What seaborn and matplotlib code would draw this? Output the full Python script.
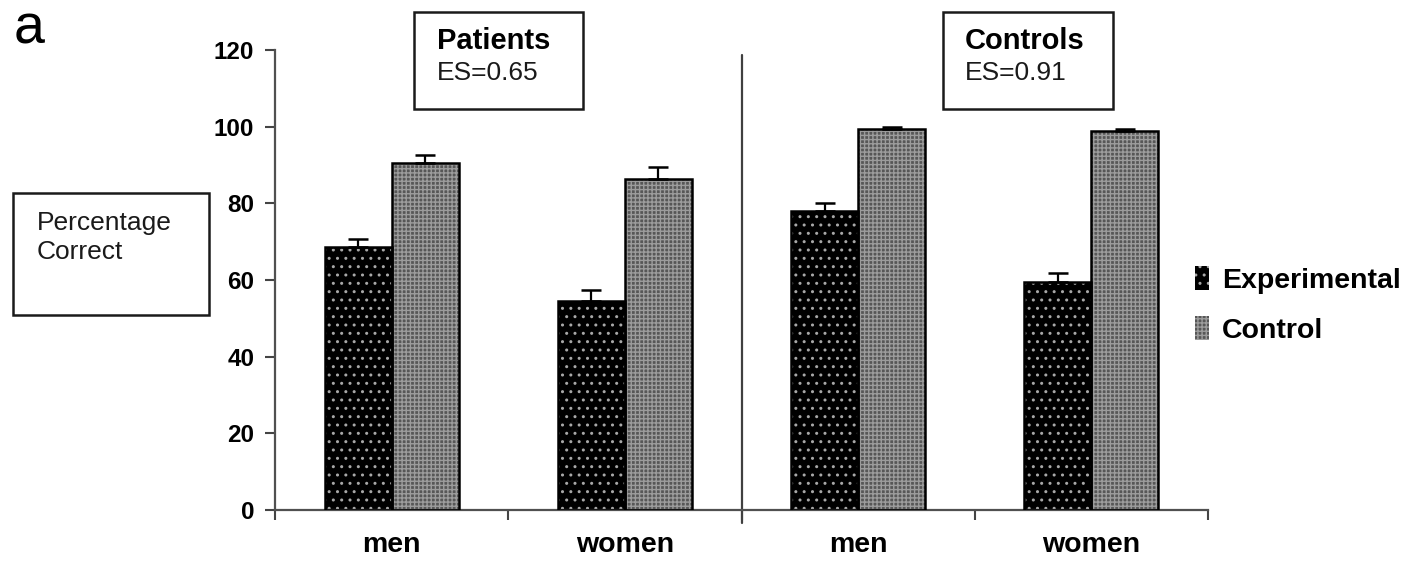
import numpy as np
import pandas as pd
import seaborn as sns
import matplotlib
matplotlib.use("Agg")
import matplotlib.pyplot as plt
from matplotlib.patches import Rectangle, Patch

# ---- data -------------------------------------------------------------
groups = ["Patients men", "Patients women", "Controls men", "Controls women"]
tick_labels = ["men", "women", "men", "women"]
conditions = ["Experimental", "Control"]
experimental_mean = [68.7, 54.6, 78.0, 59.6]
experimental_err = [2.1, 2.8, 2.0, 2.1]
control_mean = [90.5, 86.3, 99.3, 99.0]
control_err = [2.2, 3.3, 0.5, 0.5]
panel_titles = ["Patients", "Controls"]
effect_sizes = ["ES=0.65", "ES=0.91"]
y_ticks = [0, 20, 40, 60, 80, 100, 120]

df = pd.DataFrame({
    "group": groups * 2,
    "condition": [conditions[0]] * 4 + [conditions[1]] * 4,
    "value": experimental_mean + control_mean,
})

# ---- figure -----------------------------------------------------------
W, H = 1414, 569
sns.set_theme(style="white")
plt.rcParams["font.family"] = ["Liberation Sans", "DejaVu Sans"]
plt.rcParams["hatch.linewidth"] = 1.0
plt.rcParams["text.color"] = "black"
plt.rcParams["xtick.color"] = "black"
plt.rcParams["ytick.color"] = "black"

fig = plt.figure(figsize=(W / 100, H / 100), dpi=100)


def fx(x):
    return x / W


def fy(y):
    return 1 - y / H


ax = fig.add_axes([fx(275), fy(510), fx(1208) - fx(275), fy(50) - fy(510)])

face = {"Experimental": "black", "Control": "#575757"}
hatch_col = {"Experimental": "#a8a8a8", "Control": "#9c9c9c"}
hatch_pat = {"Experimental": "..", "Control": "++++"}

sns.barplot(data=df, x="group", y="value", hue="condition", order=groups,
            hue_order=conditions, palette=face, width=0.575, errorbar=None,
            linewidth=0, saturation=1, legend=False, ax=ax)

errs = {"Experimental": experimental_err, "Control": control_err}
for cond, cont in zip(conditions, ax.containers):
    xs, ys = [], []
    for p in cont.patches:
        p.set_hatch(hatch_pat[cond])
        p.set_edgecolor(hatch_col[cond])
        p.set_linewidth(0)
        ax.add_patch(Rectangle(p.get_xy(), p.get_width(), p.get_height(),
                               fill=False, ec="black", lw=1.8, zorder=3))
        xs.append(p.get_x() + p.get_width() / 2)
        ys.append(p.get_height())
    e = np.array(errs[cond])
    ax.errorbar(xs, ys, yerr=[np.zeros_like(e), e], fmt="none", ecolor="black",
                elinewidth=1.6, capsize=7, capthick=1.8, zorder=4)

# ---- axes -------------------------------------------------------------
ax.set_xlim(-0.5, 3.5)
ax.set_ylim(0, 120)
ax.set_yticks(y_ticks)
ax.set_yticklabels([str(t) for t in y_ticks], fontsize=17.5, fontweight="bold")
ax.set_xticks([-0.5, 0.5, 1.5, 2.5, 3.5])
ax.set_xticklabels([])
ax.set_xticks(range(4), minor=True)
ax.set_xticklabels(tick_labels, minor=True, fontsize=20.5, fontweight="bold")
ax.tick_params(axis="x", which="minor", length=0, pad=16)
ax.tick_params(axis="x", which="major", direction="out", length=7, width=1.5,
               color="#444444", bottom=True)
ax.tick_params(axis="y", direction="out", length=7, width=1.5,
               color="#444444", left=True, pad=8)
ax.set_xlabel("")
ax.set_ylabel("")
for side in ["top", "right"]:
    ax.spines[side].set_visible(False)
for side in ["left", "bottom"]:
    ax.spines[side].set_color("#505050")
    ax.spines[side].set_linewidth(1.6)

# divider between the two panels
ax.axvline(1.5, ymin=-0.028, ymax=0.989, color="#404040", lw=1.6, clip_on=False)


# ---- annotations ------------------------------------------------------
def box(x0, y0, x1, y1):
    fig.patches.append(Rectangle((fx(x0), fy(y1)), fx(x1) - fx(x0), fy(y0) - fy(y1),
                                 transform=fig.transFigure, fill=False,
                                 ec="#1a1a1a", lw=1.8))


box(414, 12, 583, 109)
fig.text(fx(437), fy(49), panel_titles[0], fontsize=21, fontweight="bold", va="baseline")
fig.text(fx(437), fy(80), effect_sizes[0], fontsize=19, va="baseline", color="#1a1a1a")

box(943, 12, 1113, 109)
fig.text(fx(965), fy(49), panel_titles[1], fontsize=21, fontweight="bold", va="baseline")
fig.text(fx(965), fy(80), effect_sizes[1], fontsize=19, va="baseline", color="#1a1a1a")

box(13, 193, 209, 315)
fig.text(fx(37), fy(230), "Percentage", fontsize=19, va="baseline", color="#1a1a1a")
fig.text(fx(37), fy(259), "Correct", fontsize=19, va="baseline", color="#1a1a1a")

fig.text(fx(14), fy(43), "a", fontsize=40, va="baseline")

handles = [Patch(facecolor=face[c], edgecolor=hatch_col[c], hatch=hatch_pat[c], lw=0)
           for c in conditions]
fig.legend(handles, conditions, loc="upper left", bbox_to_anchor=(fx(1195), fy(266)),
           frameon=False, prop={"size": 20.5, "weight": "bold"},
           handlelength=0.5, handleheight=0.9, handletextpad=0.45, labelspacing=0.8,
           borderpad=0, borderaxespad=0)

fig.savefig("out.png", dpi=100)
